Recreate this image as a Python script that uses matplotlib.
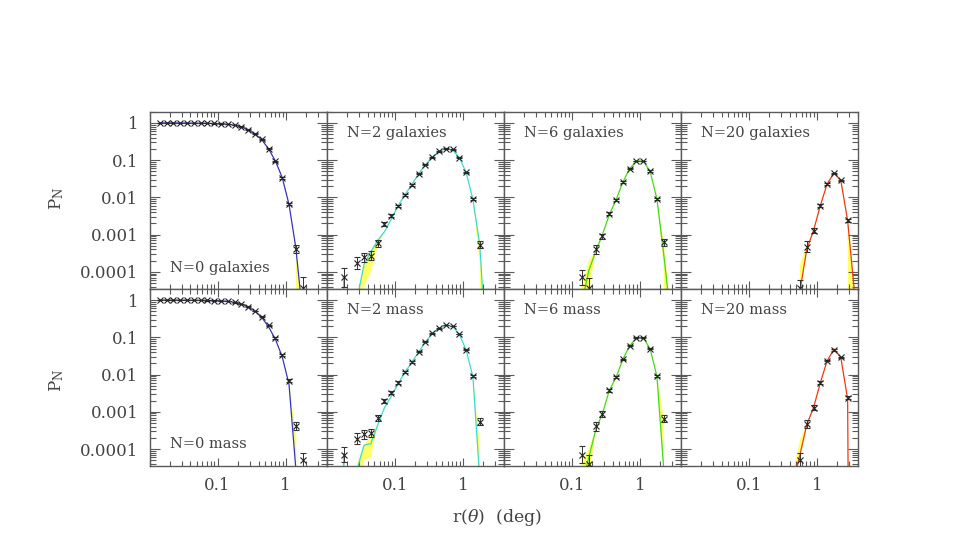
import numpy as np
import matplotlib
matplotlib.use('Agg')
import matplotlib.pyplot as plt
from matplotlib.ticker import LogLocator, NullFormatter

plt.rcParams['font.family'] = ['DejaVu Serif']
plt.rcParams['mathtext.fontset'] = 'dejavuserif'

nan = np.nan
Z = 1e-30   # model value of zero: drops off the bottom of the log axis

# %% Data
# angular bins (deg)
r_bins = [0.0141, 0.0178, 0.0224, 0.0282, 0.0355, 0.0447, 0.0562, 0.0708, 0.0891,
          0.112, 0.141, 0.178, 0.224, 0.282, 0.355, 0.447, 0.562, 0.708, 0.891,
          1.12, 1.41, 1.78, 2.24, 2.82, 3.55]

# --- N=0 ---
g0_pts = [1.0, 1.0, 1.0, 1.0, 0.995, 0.99, 0.985, 0.98, 0.97, 0.96, 0.92, 0.87, 0.79,
          0.66, 0.51, 0.36, 0.2, 0.093, 0.034, 0.0067, 4.1e-4, 3.6e-5, nan, nan, nan]
g0_err = [0.005, 0.005, 0.005, 0.005, 0.005, 0.005, 0.005, 0.005, 0.005, 0.005, 0.006,
          0.006, 0.008, 0.008, 0.01, 0.012, 0.015, 0.02, 0.025, 0.035, 0.11, 0.3, nan, nan, nan]
g0_model = [1.0, 1.0, 1.0, 0.995, 0.99, 0.985, 0.98, 0.975, 0.965, 0.95, 0.92, 0.87, 0.78,
            0.65, 0.5, 0.35, 0.2, 0.095, 0.034, 0.0065, 4.5e-4, 7e-6, Z, Z, Z]
g0_lo = [nan] * 19 + [0.0065, 3.7e-4, Z, nan, nan, nan]
g0_hi = [nan] * 19 + [0.0065, 4.5e-4, 7e-6, nan, nan, nan]

m0_pts = [1.0, 1.0, 1.0, 1.0, 0.995, 0.99, 0.985, 0.98, 0.97, 0.96, 0.93, 0.87, 0.78,
          0.66, 0.51, 0.355, 0.21, 0.097, 0.033, 0.0069, 4.2e-4, 5e-5, nan, nan, nan]
m0_err = [0.005, 0.005, 0.005, 0.005, 0.005, 0.005, 0.005, 0.005, 0.005, 0.005, 0.006,
          0.006, 0.008, 0.008, 0.01, 0.012, 0.015, 0.02, 0.025, 0.035, 0.1, 0.2, nan, nan, nan]
m0_model = [1.0, 1.0, 1.0, 1.0, 0.995, 0.99, 0.985, 0.98, 0.97, 0.955, 0.925, 0.87, 0.78,
            0.65, 0.5, 0.34, 0.19, 0.088, 0.03, 0.0055, 3e-5, Z, Z, Z, Z]
m0_lo = [nan] * 19 + [0.0055, 3e-5, nan, nan, nan, nan]
m0_hi = [nan] * 19 + [0.0055, 2e-4, nan, nan, nan, nan]

# --- N=2 ---
g2_pts = [nan, 7.1e-5, nan, 1.73e-4, 2.45e-4, 2.7e-4, 5.8e-4, 1.94e-3, 3.2e-3, 5.9e-3,
          0.0117, 0.0218, 0.043, 0.075, 0.12, 0.172, 0.203, 0.195, 0.116, 0.047, 0.0089,
          5.4e-4, nan, nan, nan]
g2_err = [nan, 0.25, nan, 0.16, 0.13, 0.12, 0.09, 0.05, 0.04, 0.03, 0.025, 0.02, 0.015,
          0.012, 0.01, 0.01, 0.01, 0.01, 0.01, 0.015, 0.03, 0.09, nan, nan, nan]
g2_model = [Z, 7e-5, Z, 2e-5, 1.6e-4, 3.5e-4, 7e-4, 1.2e-3, 2.6e-3, 5.9e-3, 0.0117, 0.022,
            0.043, 0.075, 0.12, 0.172, 0.203, 0.19, 0.116, 0.047, 0.0089, 5.2e-4, 6e-7, Z, Z]
g2_lo = [nan, nan, nan, Z, 4e-5, 1e-4, 5e-4, 1.2e-3] + [nan] * 12 + [0.0089, 1.5e-4, Z, nan, nan]
g2_hi = [nan, nan, nan, 2e-5, 1.6e-4, 3.5e-4, 7e-4, 1.2e-3] + [nan] * 12 + [0.0089, 5.2e-4, 6e-7, nan, nan]

m2_pts = [nan, 7.1e-5, nan, 1.9e-4, 2.5e-4, 2.7e-4, 7e-4, 1.94e-3, 3.2e-3, 6.1e-3,
          0.0119, 0.022, 0.041, 0.076, 0.127, 0.174, 0.213, 0.2, 0.122, 0.047, 0.0091,
          5.4e-4, nan, nan, nan]
m2_err = [nan, 0.2, nan, 0.15, 0.12, 0.11, 0.08, 0.05, 0.04, 0.03, 0.025, 0.02, 0.015,
          0.012, 0.01, 0.01, 0.01, 0.01, 0.01, 0.015, 0.03, 0.09, nan, nan, nan]
m2_model = [Z, 7.5e-5, Z, 3e-5, 1.27e-4, 1.4e-4, 4.4e-4, 1.3e-3, 2.6e-3, 5.6e-3, 0.0115,
            0.021, 0.04, 0.074, 0.125, 0.172, 0.21, 0.197, 0.12, 0.046, 0.0088, 1.5e-5, Z, Z, Z]
m2_lo = [nan, nan, nan, Z, 5e-5, 6e-5, 4.4e-4] + [nan] * 13 + [0.0088, 1.5e-5, nan, nan, nan]
m2_hi = [nan, nan, nan, 4e-5, 1.27e-4, 2.2e-4, 4.4e-4] + [nan] * 13 + [0.0088, 1.2e-4, nan, nan, nan]

# --- N=6 ---
g6_pts = [nan] * 10 + [7.1e-5, 3.8e-5, 4.1e-4, 9e-4, 3.6e-3, 8.5e-3, 0.0257, 0.059,
                       0.0946, 0.0946, 0.051, 0.0091, 6.2e-4, nan, nan]
g6_err = [nan] * 10 + [0.2, 0.25, 0.12, 0.07, 0.04, 0.03, 0.02, 0.015, 0.012, 0.012,
                       0.015, 0.03, 0.1, nan, nan]
g6_model = [Z] * 10 + [1.5e-5, 1.1e-4, 3.5e-4, 1e-3, 3.4e-3, 8.5e-3, 0.0257, 0.059,
                       0.0946, 0.0946, 0.051, 0.0091, 3e-4, 7e-6, Z]
g6_lo = [nan] * 10 + [Z, 3e-5, 3.5e-4] + [nan] * 8 + [0.0091, 1.5e-4, Z, nan]
g6_hi = [nan] * 10 + [4e-5, 2e-4, 3.5e-4] + [nan] * 8 + [0.0091, 6e-4, 1e-5, nan]

m6_pts = [nan] * 10 + [7.1e-5, 4e-5, 4.1e-4, 8.7e-4, 3.8e-3, 8.4e-3, 0.0255, 0.059,
                       0.097, 0.097, 0.05, 0.0093, 6.6e-4, nan, nan]
m6_err = [nan] * 10 + [0.22, 0.25, 0.12, 0.07, 0.04, 0.03, 0.02, 0.015, 0.012, 0.012,
                       0.015, 0.03, 0.1, nan, nan]
m6_model = [Z] * 10 + [1.2e-5, 6e-5, 3.2e-4, 9e-4, 3.7e-3, 8.4e-3, 0.0255, 0.059,
                       0.097, 0.097, 0.05, 0.009, 3e-5, Z, Z]
m6_lo = [nan] * 10 + [Z, 1.5e-5, 3.2e-4] + [nan] * 8 + [0.009, 3e-5, nan, nan]
m6_hi = [nan] * 10 + [5e-5, 1e-4, 3.2e-4] + [nan] * 8 + [0.009, 7e-4, nan, nan]

# --- N=20 ---
g20_pts = [nan] * 16 + [3.8e-5, 4.8e-4, 1.28e-3, 6e-3, 0.023, 0.045, 0.0285, 2.4e-3, nan]
g20_err = [nan] * 16 + [0.2, 0.15, 0.07, 0.04, 0.02, 0.015, 0.02, 0.05, nan]
g20_model = [Z] * 16 + [3e-5, 4e-4, 1.3e-3, 6e-3, 0.023, 0.045, 0.0285, 2.4e-3, 3e-5]
g20_lo = [nan] * 16 + [3e-5, 4e-4] + [nan] * 5 + [1.2e-3, Z]
g20_hi = [nan] * 16 + [1.5e-4, 5.5e-4] + [nan] * 5 + [2.4e-3, 3e-5]

m20_pts = [nan] * 16 + [5e-5, 4.7e-4, 1.3e-3, 6e-3, 0.0235, 0.0456, 0.029, 2.4e-3, nan]
m20_err = [nan] * 16 + [0.2, 0.12, 0.07, 0.04, 0.02, 0.015, 0.02, 0.05, nan]
m20_model = [Z] * 15 + [1.2e-5, 7e-5, 4.5e-4, 1.3e-3, 6e-3, 0.0235, 0.048, 0.029, 2.2e-3, Z]
m20_lo = [nan] * 15 + [1.2e-5, 7e-5, 4.5e-4] + [nan] * 7
m20_hi = [nan] * 15 + [3e-5, 2e-4, 5e-4] + [nan] * 7

top_labels = ['N=0 galaxies', 'N=2 galaxies', 'N=6 galaxies', 'N=20 galaxies']
bottom_labels = ['N=0 mass', 'N=2 mass', 'N=6 mass', 'N=20 mass']
line_colors = ['#3535c0', '#3ddcc8', '#40dd10', '#ee3a10']

y_ticks = [1, 0.1, 0.01, 0.001, 0.0001]
y_tick_labels = ['1', '0.1', '0.01', '0.001', '0.0001']
x_ticks = [0.01, 0.1, 1]
x_tick_labels = ['', '0.1', '1']

rows = [
    [(g0_pts, g0_err, g0_model, g0_lo, g0_hi), (g2_pts, g2_err, g2_model, g2_lo, g2_hi),
     (g6_pts, g6_err, g6_model, g6_lo, g6_hi), (g20_pts, g20_err, g20_model, g20_lo, g20_hi)],
    [(m0_pts, m0_err, m0_model, m0_lo, m0_hi), (m2_pts, m2_err, m2_model, m2_lo, m2_hi),
     (m6_pts, m6_err, m6_model, m6_lo, m6_hi), (m20_pts, m20_err, m20_model, m20_lo, m20_hi)],
]

# %% Plot
fig, axes = plt.subplots(2, 4, figsize=(9.69, 5.37), dpi=100, sharex=True, sharey=True)
fig.subplots_adjust(left=0.1543, right=0.8854, bottom=0.1322, top=0.792, wspace=0, hspace=0)

r = np.array(r_bins)
frame = '#5a5a5a'
txt = '#444444'

for i in range(2):
    for j in range(4):
        ax = axes[i, j]
        pts, err, model, lo, hi = [np.array(a, dtype=float) for a in rows[i][j]]

        ax.fill_between(r, lo, hi, color='#ffff66', lw=0, zorder=1)
        ax.plot(r, model, color=line_colors[j], lw=0.9, zorder=2)

        ok = ~np.isnan(pts)
        p = pts[ok]
        e = err[ok]
        yerr = [p - p * 10 ** (-e), p * 10 ** e - p]
        ax.errorbar(r[ok], p, yerr=yerr, fmt='x', ms=4, mew=0.8, color='#222222',
                    ecolor='#333333', elinewidth=0.7, capsize=2.5, capthick=0.7, zorder=3)

        ax.set_xscale('log')
        ax.set_yscale('log')
        ax.set_xlim(0.01, 4.0)
        ax.set_ylim(3.5e-5, 2.0)

        ax.set_xticks(x_ticks)
        ax.set_xticklabels(x_tick_labels)
        ax.set_yticks(y_ticks)
        ax.set_yticklabels(y_tick_labels)
        ax.xaxis.set_minor_locator(LogLocator(base=10, subs=np.arange(2, 10), numticks=50))
        ax.yaxis.set_minor_locator(LogLocator(base=10, subs=np.arange(2, 10), numticks=50))
        ax.xaxis.set_minor_formatter(NullFormatter())
        ax.yaxis.set_minor_formatter(NullFormatter())

        ax.tick_params(which='both', direction='in', top=True, right=True,
                       color=frame, width=0.8, labelcolor=txt, labelsize=12)
        ax.tick_params(axis='x', which='major', length=6, pad=8)
        ax.tick_params(axis='x', which='minor', length=3.5)
        ax.tick_params(axis='y', which='major', length=7.5, pad=8)
        ax.tick_params(axis='y', which='minor', length=4.5)
        if j > 0:
            ax.tick_params(labelleft=False)
        if i == 0:
            ax.tick_params(labelbottom=False)

        for s in ax.spines.values():
            s.set_color(frame)
            s.set_linewidth(1.0)

        if i == 0 and j == 0:
            ax.text(0.115, 0.12, top_labels[j], transform=ax.transAxes, fontsize=10.5,
                    color=txt, ha='left', va='center')
        elif i == 0:
            ax.text(0.115, 0.88, top_labels[j], transform=ax.transAxes, fontsize=10.5,
                    color=txt, ha='left', va='center')
        elif j == 0:
            ax.text(0.115, 0.125, bottom_labels[j], transform=ax.transAxes, fontsize=10.5,
                    color=txt, ha='left', va='center')
        else:
            ax.text(0.115, 0.88, bottom_labels[j], transform=ax.transAxes, fontsize=10.5,
                    color=txt, ha='left', va='center')

fig.text(57 / 969, 1 - 198 / 537, r'$\mathrm{P_N}$', rotation=90, fontsize=12,
         color=txt, ha='center', va='center')
fig.text(57 / 969, 1 - 380 / 537, r'$\mathrm{P_N}$', rotation=90, fontsize=12,
         color=txt, ha='center', va='center')
fig.text(497 / 969, 1 - 518 / 537, r'r($\theta$)  (deg)', fontsize=12.5,
         color=txt, ha='center', va='center')

fig.savefig('out.png', dpi=100)
